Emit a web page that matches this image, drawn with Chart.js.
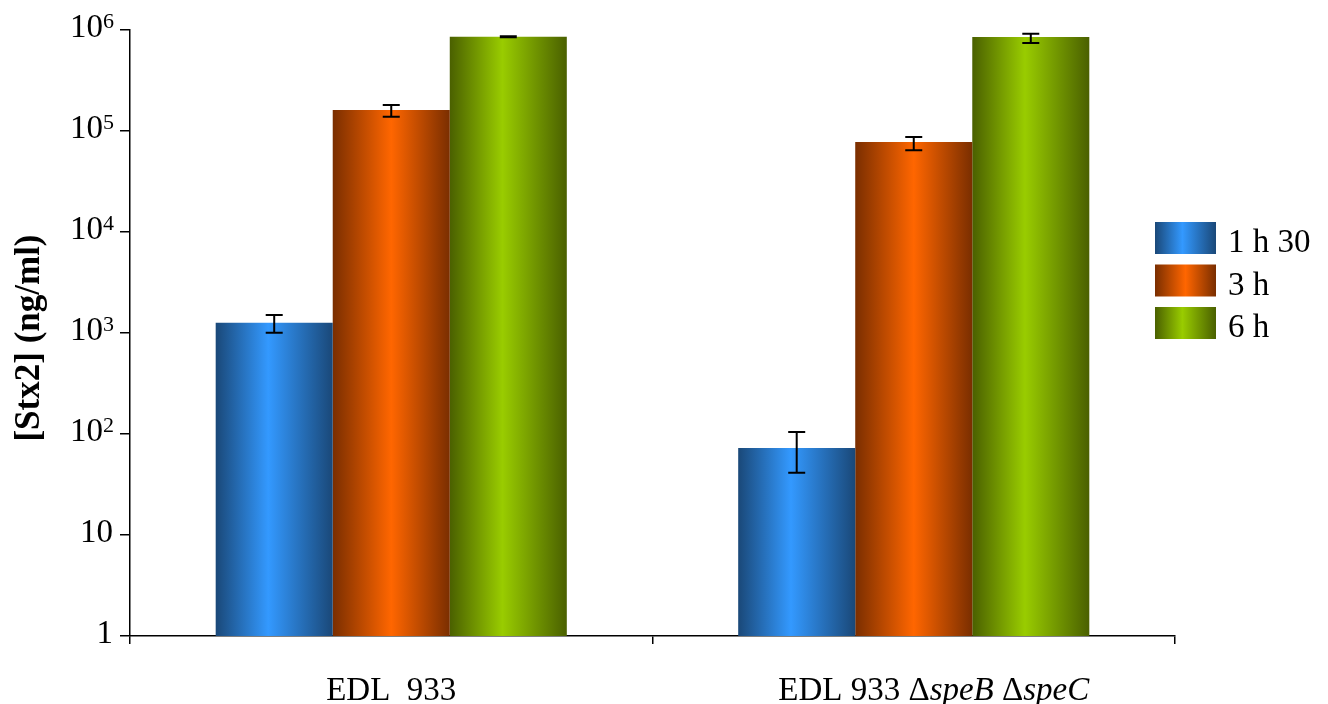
<!DOCTYPE html>
<html>
<head>
<meta charset="utf-8">
<script src="https://cdn.jsdelivr.net/npm/chart.js@4.4.1/dist/chart.umd.min.js"></script>
<style>
html, body { margin: 0; padding: 0; background: #fff; }
</style>
</head>
<body>
<canvas id="stxChart" width="1328" height="704"></canvas>
<script>
// data
var categories = ['EDL  933', 'EDL 933 \u0394speB \u0394speC'];
var italicWords = ['speB', 'speC'];
var seriesNames = ['1 h 30', '3 h', '6 h'];
var stx1h30 = [1265, 72.7];
var stx3h = [161000, 77800];
var stx6h = [859000, 853000];
var err1h30Low = [1007, 41.4];
var err1h30High = [1507, 104.7];
var err3hLow = [138600, 64400];
var err3hHigh = [180800, 87300];
var err6hLow = [850000, 743000];
var err6hHigh = [868000, 918000];
var yTicks = [1, 10, 100, 1000, 10000, 100000, 1000000];

var shades = [
    { edge: '#1a4878', peak: '#3399ff', at: 0.45 },
    { edge: '#7a2e00', peak: '#ff6600', at: 0.5 },
    { edge: '#4a6000', peak: '#99cc00', at: 0.45 }
];
var catPct = 0.672;
var serifFont = '"Liberation Serif", "Times New Roman", Times, serif';

function makeGrad(c, left, w, s) {
    var g = c.createLinearGradient(left, 0, left + w, 0);
    g.addColorStop(0, shades[s].edge);
    g.addColorStop(shades[s].at, shades[s].peak);
    g.addColorStop(1, shades[s].edge);
    return g;
}

function barFill(s) {
    return function(ctx) {
        var chart = ctx.chart;
        var x = chart.scales.x;
        if (!x || !chart.chartArea || ctx.dataIndex === undefined) return shades[s].peak;
        var bw = (x.width / categories.length) * catPct / seriesNames.length;
        var left = x.getPixelForValue(ctx.dataIndex) - bw * seriesNames.length / 2 + s * bw;
        return makeGrad(chart.ctx, left, bw, s);
    };
}

var errLow = [err1h30Low, err3hLow, err6hLow];
var errHigh = [err1h30High, err3hHigh, err6hHigh];

var extras = {
    id: 'extras',
    afterDatasetsDraw: function(chart) {
        var c = chart.ctx, ys = chart.scales.y;
        c.save();
        c.strokeStyle = '#000';
        c.lineWidth = 2;
        chart.data.datasets.forEach(function(ds, d) {
            chart.getDatasetMeta(d).data.forEach(function(bar, i) {
                var y1 = ys.getPixelForValue(errLow[d][i]);
                var y2 = ys.getPixelForValue(errHigh[d][i]);
                c.beginPath();
                c.moveTo(bar.x, y1); c.lineTo(bar.x, y2);
                c.moveTo(bar.x - 8.5, y1); c.lineTo(bar.x + 8.5, y1);
                c.moveTo(bar.x - 8.5, y2); c.lineTo(bar.x + 8.5, y2);
                c.stroke();
            });
        });
        c.restore();
    },
    afterDraw: function(chart) {
        var c = chart.ctx, ys = chart.scales.y, xs = chart.scales.x;
        c.save();
        c.fillStyle = '#000';
        c.textBaseline = 'alphabetic';

        // y tick labels with superscript exponents
        c.textAlign = 'right';
        yTicks.forEach(function(v) {
            var py = ys.getPixelForValue(v);
            var e = Math.round(Math.log10(v));
            if (e < 2) {
                c.font = '33px ' + serifFont;
                c.fillText(String(v), 113, py + 7);
            } else {
                c.font = '22px ' + serifFont;
                c.fillText(String(e), 114, py - 2);
                var ew = c.measureText(String(e)).width;
                c.font = '33px ' + serifFont;
                c.fillText('10', 114 - ew, py + 7);
            }
        });

        // y title
        c.save();
        c.translate(30, (chart.chartArea.top + chart.chartArea.bottom) / 2 + 5);
        c.rotate(-Math.PI / 2);
        c.textAlign = 'center';
        c.textBaseline = 'middle';
        c.font = 'bold 35px ' + serifFont;
        c.fillText('[Stx2] (ng/ml)', 0, 0);
        c.restore();

        // x labels, gene names in italics
        c.textAlign = 'left';
        var re = new RegExp('(' + italicWords.join('|') + ')');
        categories.forEach(function(label, i) {
            var parts = label.split(re).filter(function(p) { return p.length; });
            var widths = parts.map(function(p) {
                c.font = (italicWords.indexOf(p) >= 0 ? 'italic ' : '') + '33px ' + serifFont;
                return c.measureText(p).width;
            });
            var total = widths.reduce(function(a, b) { return a + b; }, 0);
            var px = xs.getPixelForValue(i) - total / 2 + (i === 1 ? 20 : 0);
            parts.forEach(function(p, k) {
                c.font = (italicWords.indexOf(p) >= 0 ? 'italic ' : '') + '33px ' + serifFont;
                c.fillText(p, px, 700);
                px += widths[k];
            });
        });

        // legend
        seriesNames.forEach(function(name, s) {
            var top = 222 + s * 42.5;
            c.fillStyle = makeGrad(c, 1155, 61, s);
            c.fillRect(1155, top, 61, 32);
            c.fillStyle = '#000';
            c.font = '33px ' + serifFont;
            c.fillText(name, 1228, top + 30);
        });
        c.restore();
    }
};

function drawChart() {
    var stx = document.getElementById('stxChart').getContext('2d');
    var stx_chart = new Chart(stx, {
        type: 'bar',
        data: {
            labels: categories,
            datasets: [
                { label: seriesNames[0], data: stx1h30, backgroundColor: barFill(0) },
                { label: seriesNames[1], data: stx3h, backgroundColor: barFill(1) },
                { label: seriesNames[2], data: stx6h, backgroundColor: barFill(2) }
            ]
        },
        options: {
            responsive: false,
            animation: false,
            categoryPercentage: catPct,
            barPercentage: 1,
            layout: { padding: { top: 30, right: 153, left: 0, bottom: 0 } },
            plugins: {
                legend: { display: false },
                tooltip: { enabled: false }
            },
            scales: {
                x: {
                    afterFit: function(s) { s.height = 68; },
                    ticks: { display: false },
                    grid: { drawOnChartArea: false, drawTicks: true, tickLength: 8, color: '#000', lineWidth: 1.5 },
                    border: { display: true, color: '#000', width: 1.5 }
                },
                y: {
                    type: 'logarithmic',
                    min: 1,
                    max: 1000000,
                    afterBuildTicks: function(s) {
                        s.ticks = yTicks.map(function(v) { return { value: v }; });
                    },
                    afterFit: function(s) { s.width = 130; },
                    ticks: { display: false },
                    grid: { drawOnChartArea: false, drawTicks: true, tickLength: 10, color: '#000', lineWidth: 1.5 },
                    border: { display: true, color: '#000', width: 1.5 }
                }
            }
        },
        plugins: [extras]
    });
}

Promise.all([
    document.fonts.load('33px "Liberation Serif"'),
    document.fonts.load('bold 35px "Liberation Serif"'),
    document.fonts.load('italic 33px "Liberation Serif"')
]).then(drawChart, drawChart);
</script>
</body>
</html>
